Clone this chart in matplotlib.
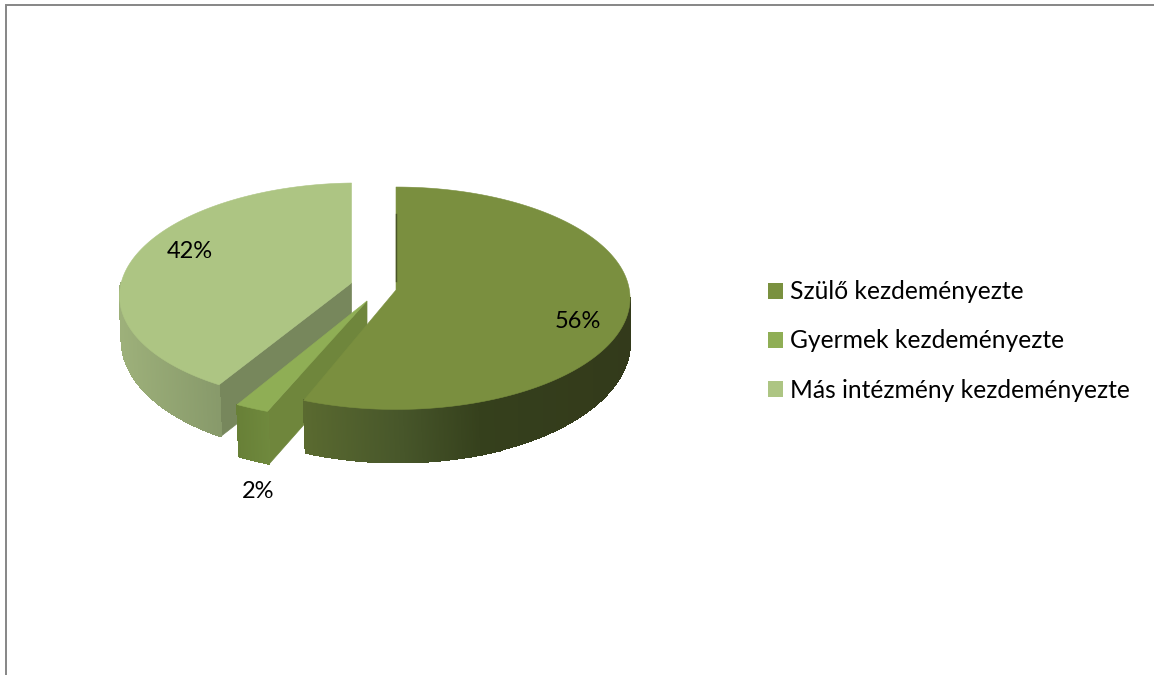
import numpy as np
import matplotlib
matplotlib.use("Agg")
import matplotlib.pyplot as plt
from matplotlib.patches import Patch, Rectangle
from matplotlib.colors import to_rgb

categories = ["Szülő kezdeményezte", "Gyermek kezdeményezte", "Más intézmény kezdeményezte"]
values = [56, 2, 42]
legend_colors = ["#7A913F", "#8FAE55", "#ADC583"]

FONT = "Lato"
W, H = 1154, 675
fig = plt.figure(figsize=(W / 100, H / 100), dpi=100)
ax = fig.add_axes([0, 0, 1, 1])
ax.set_xlim(0, W)
ax.set_ylim(H, 0)
ax.axis("off")

# chart frame (only top/left fall inside the crop)
ax.add_patch(Rectangle((5.5, 4.5), W + 20, H + 20, fc="white", ec="#868686", lw=1.4, zorder=0))

# slice geometry: perspective-projected, exploded disc slices
styles = [
    dict(apex=(396, 290), a=233.4, b=110.6, k=0.074, warp=1.0, shear=0.0,
         top="#7A8F3F", cut="#707F3A",
         side_stops=[(303, "#5A6A30"), (400, "#47562A"), (480, "#35401C"), (630, "#333A1B")],
         side_from=94, z=3),
    dict(apex=(367, 301), a=252, b=110.6, k=0.074, warp=1.0, shear=0.0,
         top="#8FAE55", cut="#6F863C",
         side_stops=[(236, "#688037"), (272, "#708A3E")],
         side_from=None, z=2),
    dict(apex=(351.5, 283), a=231, b=109, k=0.09, warp=148 / 151.2, shear=-3.0,
         top="#ADC583", cut="#77875C",
         side_stops=[(120, "#9DB07A"), (221, "#87996A")],
         side_from=None, z=1),
]


def project(st, deg):
    t = np.radians(deg)
    X, Y = np.sin(t), -np.cos(t)
    w = 1 / (1 - st["k"] * Y)
    x = st["apex"][0] + st["a"] * X * w
    y = st["apex"][1] + (st["b"] * Y + st["shear"] * X) * w
    return x, y, Y


def depth(Y):
    return 43 + 10 * np.clip(Y, 0, 1)


def side_color(st, x):
    xs = [p[0] for p in st["side_stops"]]
    cs = np.array([to_rgb(p[1]) for p in st["side_stops"]])
    return tuple(np.interp(x, xs, cs[:, i]) for i in range(3))


start = 0.0
total = sum(values)
for v, st in zip(values, styles):
    end = start + 360 * v / total
    z = st["z"]
    if st["warp"] != 1.0:
        t0 = 360 - (360 - start) * st["warp"]
        t1 = 360 - (360 - end) * st["warp"]
    else:
        t0, t1 = start, end
    ts = np.linspace(t0, t1, 240)
    px, py, pY = project(st, ts)
    ax_, ay_ = st["apex"]

    # radial cut face seen on the slice's first edge
    if v != values[0]:
        ex, ey, eY = px[0], py[0], pY[0]
        d = depth(eY)
        ax.fill([ax_, ax_, ex + 2, ex], [ay_, ay_ + d, ey + d, ey], color=st["cut"], lw=0.5, zorder=z)

    # curved outer side
    if st["side_from"] is not None:
        side_ts = np.linspace(st["side_from"], t1, 400)
    elif v == values[1]:
        side_ts = ts
    else:
        side_ts = np.linspace(t0, 272, 300)
    sx, sy, sY = project(st, side_ts)
    sd = depth(sY)
    for i in range(len(side_ts) - 1):
        shift = 2.0 if sx[i] < 500 else 0.0
        ax.fill([sx[i], sx[i + 1], sx[i + 1] + shift, sx[i] + shift],
                [sy[i], sy[i + 1], sy[i + 1] + sd[i + 1], sy[i] + sd[i]],
                color=side_color(st, sx[i]), lw=0.8, zorder=z, antialiased=False)

    # top face
    ax.fill(np.r_[ax_, px], np.r_[ay_, py], color=st["top"], lw=0.4, zorder=z + 0.5)
    start = end

# thin dark back face of the big slice
ax.plot([396, 396], [214, 281], color="#4A5528", lw=1.0, zorder=3.6)

# percentage labels
label_pos = [(578, 322), (258, 492), (190, 252)]
for v, (lx, ly) in zip(values, label_pos):
    ax.text(lx, ly, f"{v}%", ha="center", va="center", fontsize=17, family=FONT, color="black", zorder=6)

handles = [Patch(facecolor=c, edgecolor="none") for c in legend_colors]
ax.legend(handles, categories, loc="center left", bbox_to_anchor=(768 / W, 1 - 341 / H),
          frameon=False, prop={"family": FONT, "size": 17.7}, handlelength=0.6, handleheight=0.6,
          handletextpad=0.28, labelspacing=1.06, borderpad=0, borderaxespad=0)

fig.savefig("out.png", dpi=100)
